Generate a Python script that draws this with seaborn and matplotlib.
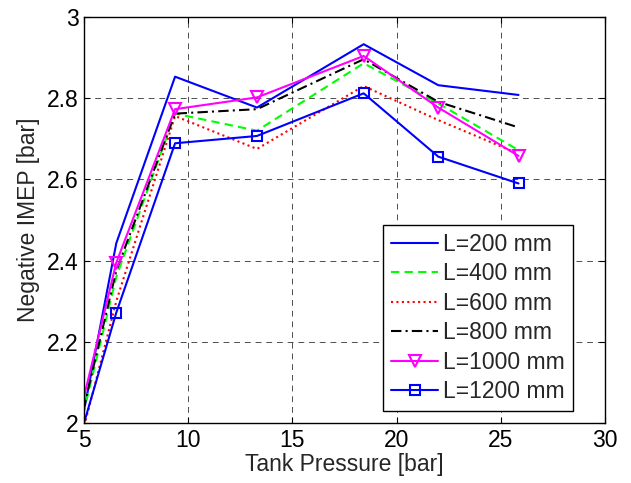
import numpy as np
import pandas as pd
import matplotlib
matplotlib.use("Agg")
import matplotlib.pyplot as plt
import seaborn as sns

# Data (first point lies just left of the visible axis range)
tank_pressure = [4.5, 6.55, 9.37, 13.3, 18.42, 22.0, 25.85]
L200 = [1.897, 2.443, 2.853, 2.777, 2.933, 2.832, 2.808]
L400 = [1.924, 2.36, 2.762, 2.72, 2.886, 2.787, 2.672]
L600 = [1.89, 2.30, 2.756, 2.675, 2.83, 2.746, 2.663]
L800 = [1.932, 2.375, 2.762, 2.773, 2.896, 2.791, 2.728]
L1000 = [1.958, 2.395, 2.773, 2.802, 2.904, 2.777, 2.658]
L1200 = [1.912, 2.272, 2.689, 2.707, 2.812, 2.656, 2.590]
labels = ["L=200 mm", "L=400 mm", "L=600 mm", "L=800 mm", "L=1000 mm", "L=1200 mm"]
series = [L200, L400, L600, L800, L1000, L1200]
xticks = [5, 10, 15, 20, 25, 30]
yticks = [2.0, 2.2, 2.4, 2.6, 2.8, 3.0]
ytick_labels = ["2", "2.2", "2.4", "2.6", "2.8", "3"]

sns.set_style("white")
plt.rcParams["font.family"] = ["Liberation Sans", "DejaVu Sans"]
FS = 16.5

styles = [
    dict(color=(0, 0, 1), linestyle="-", marker=None),
    dict(color=(0, 1, 0), linestyle=(0, (4, 2.5)), marker=None),
    dict(color=(1, 0, 0), linestyle=(0, (1, 1.6)), marker=None),
    dict(color=(0, 0, 0), linestyle=(0, (5, 2, 1, 2)), marker=None),
    dict(color=(1, 0, 1), linestyle="-", marker="v"),
    dict(color=(0, 0, 1), linestyle="-", marker="s"),
]

fig = plt.figure(figsize=(6.31, 4.83), dpi=100)
ax = fig.add_axes([84 / 631, 1 - 423 / 483, 521 / 631, 406 / 483])

for lab, vals, st in zip(labels, series, styles):
    df = pd.DataFrame({"x": tank_pressure, "y": vals})
    kw = {}
    if st["marker"] is not None:
        kw = dict(marker=st["marker"], markersize=8 if st["marker"] == "v" else 7,
                  markerfacecolor="none", markeredgecolor=st["color"], markeredgewidth=1.5)
    sns.lineplot(data=df, x="x", y="y", ax=ax, color=st["color"], linewidth=1.5,
                 label=lab, sort=False, **kw)
    ax.lines[-1].set_linestyle(st["linestyle"])

ax.set_xlim(5, 30)
ax.set_ylim(2, 3)
ax.set_xticks(xticks)
ax.set_xticklabels([str(t) for t in xticks])
ax.set_yticks(yticks)
ax.set_yticklabels(ytick_labels)
ax.grid(True, color="#222222", linestyle=(0, (6, 5)), linewidth=0.7, alpha=0.8)
ax.tick_params(direction="in", length=4, width=0.8, labelsize=FS, top=True, right=True,
               bottom=True, left=True, colors="black", pad=4)
for s in ax.spines.values():
    s.set_visible(True)
    s.set_color("black")
    s.set_linewidth(1.0)
ax.set_xlabel("Tank Pressure [bar]", fontsize=FS, labelpad=1)
ax.set_ylabel("Negative IMEP [bar]", fontsize=FS, labelpad=5)

leg = ax.legend(loc="lower right", bbox_to_anchor=(0.9386, 0.0296), fontsize=FS,
                frameon=True, fancybox=False, edgecolor="black", framealpha=1,
                handlelength=2.05, handletextpad=0.22, labelspacing=0.28, borderpad=0.35,
                borderaxespad=0)
leg.get_frame().set_linewidth(1.0)

fig.savefig("out.png", dpi=100)
